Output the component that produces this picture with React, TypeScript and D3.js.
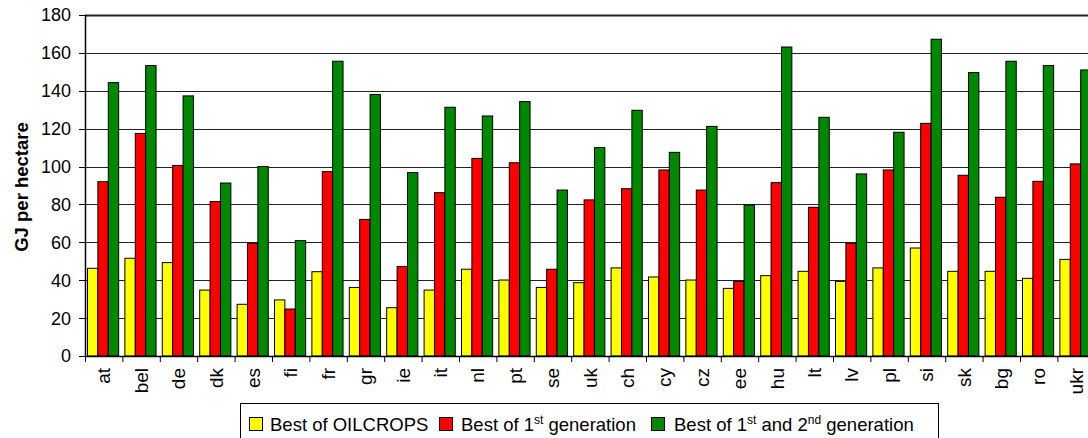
import React from "react";
import * as d3 from "d3";

// countries along the x axis
const countries = [
  "at", "bel", "de", "dk", "es", "fi", "fr", "gr", "ie", "it", "nl", "pt", "se", "uk",
  "ch", "cy", "cz", "ee", "hu", "lt", "lv", "pl", "si", "sk", "bg", "ro", "ukr",
];

// GJ per hectare
const oilcrops = [
  46.3, 51.6, 49.3, 34.8, 27.3, 29.6, 44.5, 36.2, 25.5, 34.8, 45.8, 40.1, 36.2, 38.7,
  46.5, 41.7, 40.1, 35.7, 42.4, 44.7, 39.4, 46.5, 57, 44.7, 44.7, 41, 51,
];
const firstGen = [
  92, 117.5, 100.6, 81.5, 59.5, 24.8, 97.3, 72.1, 47.2, 86.2, 104.3, 102, 45.8, 82.4,
  88.3, 98.2, 87.6, 39.4, 91.5, 78.5, 59.5, 98.2, 122.8, 95.4, 83.8, 92.2, 101.4,
];
const firstSecondGen = [
  144.3, 153.3, 137.3, 91.3, 100, 60.9, 155.6, 138, 96.8, 131.3, 126.7, 134.3, 87.6, 110,
  129.7, 107.5, 121.2, 79.7, 163.1, 126, 96.1, 118.1, 167.2, 149.6, 155.6, 153.3, 151,
];

const yTicks = [0, 20, 40, 60, 80, 100, 120, 140, 160, 180];

const seriesNames = ["oil", "first", "both"];
const seriesColors = ["#ffff00", "#ff0000", "#008800"];

const FONT = "Arial, 'Liberation Sans', sans-serif";

const App = () => {
  const width = 1088;
  const height = 438;
  const left = 85;
  const top = 15;
  const bottom = 356;
  const step = 37.4;

  const x = d3
    .scaleBand<string>()
    .domain(countries)
    .range([left, left + step * countries.length])
    .paddingInner(0)
    .paddingOuter(0);

  const xSub = d3
    .scaleBand<string>()
    .domain(seriesNames)
    .range([0, x.bandwidth()])
    .paddingInner(0)
    .paddingOuter(0.3)
    .align(0.4);

  const y = d3.scaleLinear().domain([0, 180]).range([bottom, top]);

  const series = [oilcrops, firstGen, firstSecondGen];

  const legendY = 431;

  return (
    <svg
      width={width}
      height={height}
      style={{ position: "absolute", left: 0, top: 0, background: "#fff" }}
      fontFamily={FONT}
    >
      {/* gridlines */}
      {yTicks.map((t) => (
        <line
          key={`g-${t}`}
          x1={left}
          x2={width}
          y1={Math.round(y(t)) + 0.5}
          y2={Math.round(y(t)) + 0.5}
          stroke="#222"
          strokeWidth={t === 180 ? 2 : 1}
        />
      ))}

      {/* bars */}
      {countries.map((c, i) => (
        <g key={c} transform={`translate(${x(c)},0)`}>
          {series.map((s, j) => (
            <rect
              key={j}
              x={xSub(seriesNames[j])}
              y={y(s[i])}
              width={xSub.bandwidth()}
              height={bottom - y(s[i])}
              fill={seriesColors[j]}
              stroke="#000"
              strokeWidth={1}
            />
          ))}
        </g>
      ))}

      {/* y axis */}
      <line x1={left + 0.5} x2={left + 0.5} y1={top} y2={bottom} stroke="#000" strokeWidth={1.5} />
      {yTicks.map((t) => (
        <g key={`yt-${t}`}>
          <line x1={left - 6} x2={left} y1={Math.round(y(t)) + 0.5} y2={Math.round(y(t)) + 0.5} stroke="#000" />
          <text x={71} y={y(t)} dy="0.36em" textAnchor="end" fontSize={18} fill="#000">
            {t}
          </text>
        </g>
      ))}
      <text
        transform={`translate(28,187) rotate(-90)`}
        textAnchor="middle"
        fontSize={18.5}
        fontWeight="bold"
        fill="#000"
      >
        GJ per hectare
      </text>

      {/* x axis */}
      <line x1={left} x2={width} y1={bottom + 0.5} y2={bottom + 0.5} stroke="#000" strokeWidth={1.5} />
      {countries.map((c) => (
        <line
          key={`xt-${c}`}
          x1={(x(c) as number) + 0.5}
          x2={(x(c) as number) + 0.5}
          y1={bottom}
          y2={bottom + 6}
          stroke="#000"
        />
      ))}
      {countries.map((c) => (
        <text
          key={`xl-${c}`}
          transform={`translate(${(x(c) as number) + x.bandwidth() / 2},${bottom + 12}) rotate(-90)`}
          textAnchor="end"
          dy="0.35em"
          fontSize={19}
          fill="#000"
        >
          {c}
        </text>
      ))}

      {/* legend */}
      <rect x={240.5} y={403.5} width={698} height={40} fill="#fff" stroke="#000" strokeWidth={1} />
      <rect x={249.5} y={417.5} width={13} height={13} fill={seriesColors[0]} stroke="#000" />
      <text x={270} y={legendY} fontSize={18.5} fill="#000">Best of OILCROPS</text>
      <rect x={439.5} y={417.5} width={13} height={13} fill={seriesColors[1]} stroke="#000" />
      <text x={461} y={legendY} fontSize={18.5} fill="#000">
        Best of 1<tspan fontSize={12} dy={-7}>st</tspan>
        <tspan dy={7}> generation</tspan>
      </text>
      <rect x={651.5} y={417.5} width={13} height={13} fill={seriesColors[2]} stroke="#000" />
      <text x={674} y={legendY} fontSize={18.5} fill="#000">
        Best of 1<tspan fontSize={12} dy={-7}>st</tspan>
        <tspan dy={7}> and 2</tspan>
        <tspan fontSize={12} dy={-7}>nd</tspan>
        <tspan dy={7}> generation</tspan>
      </text>
    </svg>
  );
};

export default App;
